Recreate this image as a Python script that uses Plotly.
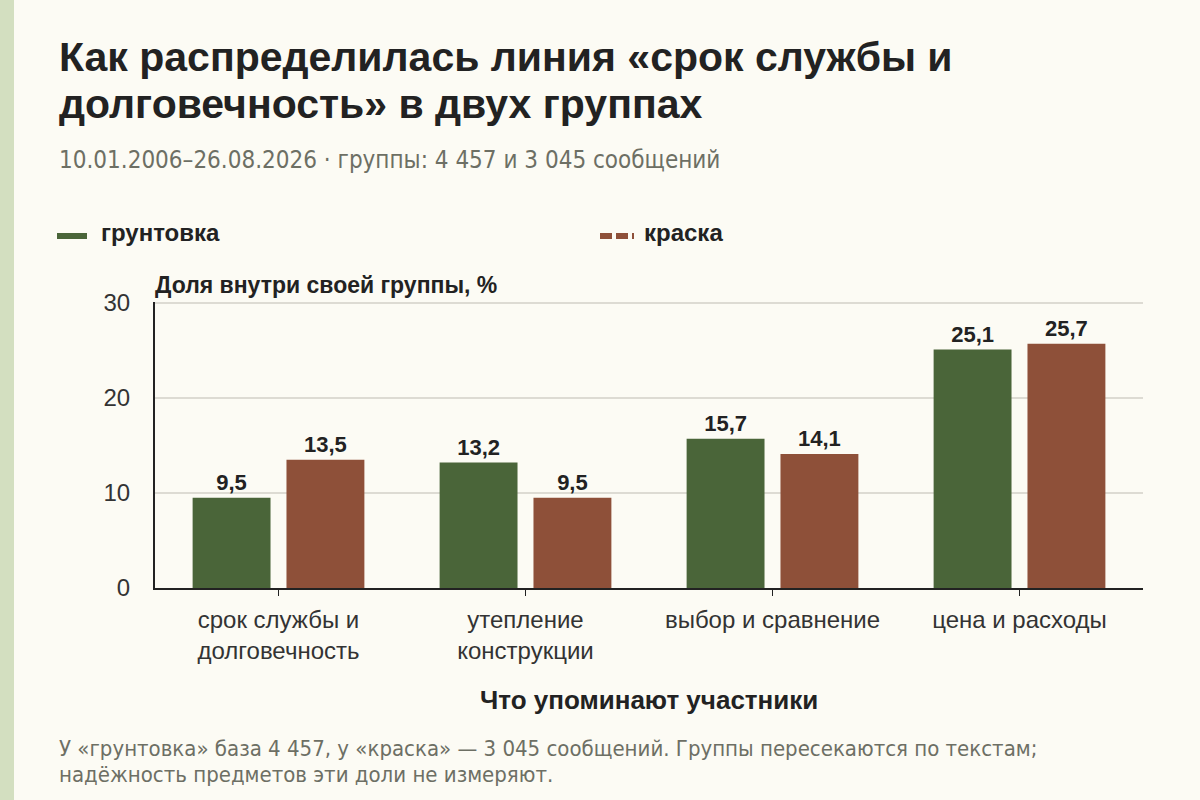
import plotly.graph_objects as go

categories = ["срок службы и<br>долговечность", "утепление<br>конструкции", "выбор и сравнение", "цена и расходы"]
primer = [9.5, 13.2, 15.7, 25.1]
paint = [13.5, 9.5, 14.1, 25.7]
y_ticks = [0, 10, 20, 30]
series_names = ["грунтовка", "краска"]

GREEN = "#4a6539"
BROWN = "#8e5039"
BG = "#fcfbf4"
STRIP = "#d3dfc0"
DARK = "#222222"
GREY = "#6d6f64"
GRID = "#dddbd3"
NARROW = "Liberation Sans Narrow, DejaVu Sans Condensed, Liberation Sans"

L, R, T, B = 155, 1143, 302, 588
W, H = 1200, 800

def px(x):
    return (x - L) / (R - L)

def py(y):
    return (B - y) / (B - T)

fig = go.Figure()
for name, vals, col in [(series_names[0], primer, GREEN), (series_names[1], paint, BROWN)]:
    fig.add_trace(go.Bar(
        x=categories, y=vals, name=name, marker=dict(color=col, line=dict(width=0)),
        texttemplate="%{y:.1f}", textposition="outside", cliponaxis=False,
        textfont=dict(family="Liberation Sans", size=22, color=DARK, weight="bold"),
        showlegend=False,
    ))

anns = [
    dict(text="<b>Как распределилась линия «срок службы и</b>", x=px(57), y=py(57),
         font=dict(family="Liberation Sans", size=41, color=DARK)),
    dict(text="<b>долговечность» в двух группах</b>", x=px(57), y=py(104),
         font=dict(family="Liberation Sans", size=41, color=DARK)),
    dict(text="10.01.2006–26.08.2026 · группы: 4 457 и 3 045 сообщений", x=px(57), y=py(160),
         font=dict(family=NARROW, size=24, color=GREY)),
    dict(text="<b>грунтовка</b>", x=px(99), y=py(232),
         font=dict(family="Liberation Sans", size=24, color=DARK)),
    dict(text="<b>краска</b>", x=px(642), y=py(232),
         font=dict(family="Liberation Sans", size=24, color=DARK)),
    dict(text="<b>Доля внутри своей группы, %</b>", x=px(153), y=py(285),
         font=dict(family="Liberation Sans", size=23, color=DARK)),
    dict(text="<b>Что упоминают участники</b>", x=0.5, y=py(700), xanchor="center",
         font=dict(family="Liberation Sans", size=26, color=DARK)),
    dict(text="У «грунтовка» база 4 457, у «краска» — 3 045 сообщений. Группы пересекаются по текстам;",
         x=px(57), y=py(748), font=dict(family=NARROW, size=22, color=GREY)),
    dict(text="надёжность предметов эти доли не измеряют.",
         x=px(57), y=py(774), font=dict(family=NARROW, size=22, color=GREY)),
]
for a in anns:
    a.setdefault("xanchor", "left")
    fig.add_annotation(xref="paper", yref="paper", yanchor="middle", showarrow=False, **a)

shapes = [
    dict(type="rect", xref="paper", yref="paper", x0=px(0), x1=px(14), y0=py(0), y1=py(800),
         fillcolor=STRIP, line=dict(width=0), layer="below"),
    dict(type="line", xref="paper", yref="y", x0=0, x1=1, y0=y_ticks[-1], y1=y_ticks[-1],
         line=dict(color=GRID, width=2), layer="below"),
    dict(type="line", xref="paper", yref="paper", x0=px(57), x1=px(87), y0=py(236), y1=py(236),
         line=dict(color=GREEN, width=6)),
    dict(type="line", xref="paper", yref="paper", x0=px(600), x1=px(634), y0=py(236), y1=py(236),
         line=dict(color=BROWN, width=6, dash="12px,4px")),
]
fig.update_layout(shapes=shapes)

fig.update_layout(
    width=W, height=H,
    margin=dict(l=L, r=W - R, t=T, b=H - B, pad=0),
    paper_bgcolor=BG, plot_bgcolor=BG,
    barmode="group", bargap=0.24, bargroupgap=0.17,
    separators=", ",
    font=dict(family="Liberation Sans", color=DARK),
    xaxis=dict(
        showline=True, linecolor=DARK, linewidth=2,
        ticks="outside", ticklen=6, tickcolor=DARK, tickwidth=1,
        ticklabelstandoff=3,
        tickfont=dict(family="Liberation Sans", size=24, color="#333333"),
        showgrid=False, fixedrange=True,
    ),
    yaxis=dict(
        range=[0, 30.1], tickvals=y_ticks,
        showline=True, linecolor=DARK, linewidth=2,
        showgrid=True, gridcolor=GRID, gridwidth=1.5,
        zeroline=False, ticks="", ticklabelstandoff=18,
        tickfont=dict(family="Liberation Sans", size=24, color="#333333"),
        fixedrange=True,
    ),
)

fig.write_html("out.html", config={"displayModeBar": False},
               post_script="document.body.style.margin='0';document.body.style.background='%s';" % BG)
